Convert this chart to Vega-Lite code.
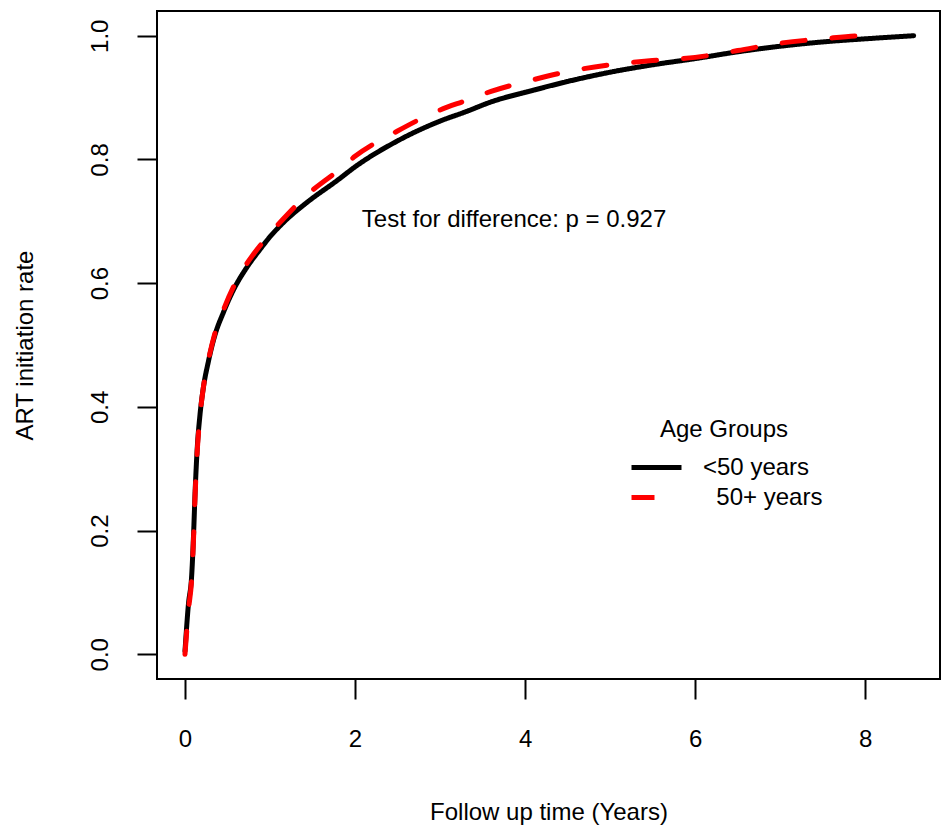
{
  "$schema": "https://vega.github.io/schema/vega-lite/v6.json",
  "width": 783,
  "height": 668,
  "autosize": {"type": "none"},
  "padding": {"left": 157, "top": 11, "right": 3, "bottom": 150},
  "background": "white",
  "config": {
    "font": "Liberation Sans",
    "view": {"stroke": "#000000", "strokeWidth": 2},
    "axis": {"domain": false, "grid": false, "tickColor": "#000000", "tickWidth": 2, "tickSize": 20, "labelColor": "#000000", "labelFontSize": 24, "titleFontSize": 24, "titleFontWeight": "normal", "titleColor": "#000000"},
    "legend": {"padding": 0}
  },
  "layer": [
    {
      "data": {"values": [
        {"time": 0, "rate": 0.005, "group": "<50 years"},
        {"time": 0.04, "rate": 0.08, "group": "<50 years"},
        {"time": 0.08, "rate": 0.13, "group": "<50 years"},
        {"time": 0.1, "rate": 0.19, "group": "<50 years"},
        {"time": 0.12, "rate": 0.265, "group": "<50 years"},
        {"time": 0.145, "rate": 0.335, "group": "<50 years"},
        {"time": 0.175, "rate": 0.385, "group": "<50 years"},
        {"time": 0.215, "rate": 0.43, "group": "<50 years"},
        {"time": 0.275, "rate": 0.473, "group": "<50 years"},
        {"time": 0.35, "rate": 0.515, "group": "<50 years"},
        {"time": 0.45, "rate": 0.552, "group": "<50 years"},
        {"time": 0.57, "rate": 0.589, "group": "<50 years"},
        {"time": 0.72, "rate": 0.624, "group": "<50 years"},
        {"time": 0.88, "rate": 0.654, "group": "<50 years"},
        {"time": 1.0, "rate": 0.675, "group": "<50 years"},
        {"time": 1.15, "rate": 0.697, "group": "<50 years"},
        {"time": 1.43, "rate": 0.73, "group": "<50 years"},
        {"time": 1.8, "rate": 0.767, "group": "<50 years"},
        {"time": 2.0, "rate": 0.788, "group": "<50 years"},
        {"time": 2.5, "rate": 0.83, "group": "<50 years"},
        {"time": 3.0, "rate": 0.862, "group": "<50 years"},
        {"time": 3.3, "rate": 0.877, "group": "<50 years"},
        {"time": 3.6, "rate": 0.893, "group": "<50 years"},
        {"time": 4.1, "rate": 0.912, "group": "<50 years"},
        {"time": 4.5, "rate": 0.926, "group": "<50 years"},
        {"time": 5.0, "rate": 0.941, "group": "<50 years"},
        {"time": 5.5, "rate": 0.953, "group": "<50 years"},
        {"time": 6.0, "rate": 0.963, "group": "<50 years"},
        {"time": 6.5, "rate": 0.974, "group": "<50 years"},
        {"time": 7.0, "rate": 0.983, "group": "<50 years"},
        {"time": 7.5, "rate": 0.99, "group": "<50 years"},
        {"time": 8.0, "rate": 0.995, "group": "<50 years"},
        {"time": 8.57, "rate": 1.0, "group": "<50 years"},
        {"time": 0, "rate": 0.0, "group": "50+ years"},
        {"time": 0.04, "rate": 0.07, "group": "50+ years"},
        {"time": 0.08, "rate": 0.125, "group": "50+ years"},
        {"time": 0.1, "rate": 0.185, "group": "50+ years"},
        {"time": 0.12, "rate": 0.26, "group": "50+ years"},
        {"time": 0.145, "rate": 0.33, "group": "50+ years"},
        {"time": 0.175, "rate": 0.383, "group": "50+ years"},
        {"time": 0.215, "rate": 0.43, "group": "50+ years"},
        {"time": 0.275, "rate": 0.475, "group": "50+ years"},
        {"time": 0.35, "rate": 0.518, "group": "50+ years"},
        {"time": 0.45, "rate": 0.556, "group": "50+ years"},
        {"time": 0.57, "rate": 0.594, "group": "50+ years"},
        {"time": 0.72, "rate": 0.63, "group": "50+ years"},
        {"time": 0.88, "rate": 0.66, "group": "50+ years"},
        {"time": 1.0, "rate": 0.68, "group": "50+ years"},
        {"time": 1.15, "rate": 0.703, "group": "50+ years"},
        {"time": 1.43, "rate": 0.742, "group": "50+ years"},
        {"time": 1.8, "rate": 0.782, "group": "50+ years"},
        {"time": 2.0, "rate": 0.805, "group": "50+ years"},
        {"time": 2.5, "rate": 0.846, "group": "50+ years"},
        {"time": 3.0, "rate": 0.88, "group": "50+ years"},
        {"time": 3.3, "rate": 0.895, "group": "50+ years"},
        {"time": 3.6, "rate": 0.91, "group": "50+ years"},
        {"time": 4.1, "rate": 0.929, "group": "50+ years"},
        {"time": 4.5, "rate": 0.942, "group": "50+ years"},
        {"time": 5.0, "rate": 0.953, "group": "50+ years"},
        {"time": 5.5, "rate": 0.96, "group": "50+ years"},
        {"time": 6.0, "rate": 0.965, "group": "50+ years"},
        {"time": 6.5, "rate": 0.976, "group": "50+ years"},
        {"time": 7.0, "rate": 0.988, "group": "50+ years"},
        {"time": 7.5, "rate": 0.995, "group": "50+ years"},
        {"time": 8.0, "rate": 1.0, "group": "50+ years"},
        {"time": 8.17, "rate": 1.0, "group": "50+ years"}
      ]},
      "mark": {"type": "line", "strokeWidth": 5, "interpolate": "monotone", "strokeCap": "round", "strokeJoin": "round"},
      "encoding": {
        "x": {"field": "time", "type": "quantitative", "scale": {"domain": [-0.329, 8.88], "nice": false, "zero": false},
              "axis": {"values": [0, 2, 4, 6, 8], "format": "d", "labelBaseline": "middle", "labelPadding": 40, "title": "Follow up time (Years)", "titleY": 133, "titleBaseline": "middle"}},
        "y": {"field": "rate", "type": "quantitative", "scale": {"domain": [-0.04, 1.04], "nice": false, "zero": false},
              "axis": {"values": [0, 0.2, 0.4, 0.6, 0.8, 1.0], "format": ".1f", "labelAngle": 270, "labelAlign": "center", "labelBaseline": "middle", "labelPadding": 37,
                       "title": "ART initiation rate", "titleAngle": 270, "titleX": -132, "titleY": 334, "titleAlign": "center", "titleBaseline": "middle"}},
        "color": {"field": "group", "type": "nominal", "scale": {"domain": ["<50 years", "50+ years"], "range": ["#000000", "#ff0000"]},
                  "legend": {"orient": "none", "legendX": 487, "legendY": 407, "title": "Age Groups", "titleFontSize": 24, "titleFontWeight": "normal", "titleColor": "#000000", "titleAnchor": "middle", "titlePadding": 13, "labelFontSize": 24, "labelColor": "#000000", "symbolType": "M-2.5,0H2.5", "symbolSize": 400, "symbolStrokeWidth": 5, "labelOffset": 34, "rowPadding": 5,
                             "labelExpr": "datum.label === '50+ years' ? '\u2060\u00a0\u00a050+ years' : datum.label",
                             "encode": {"title": {"update": {"dx": {"value": -9}}}}}},
        "strokeDash": {"field": "group", "type": "nominal", "scale": {"domain": ["<50 years", "50+ years"], "range": [[1, 0], [23, 27]]},
                  "legend": {"orient": "none", "legendX": 487, "legendY": 407, "title": "Age Groups", "titleFontSize": 24, "titleFontWeight": "normal", "titleColor": "#000000", "titleAnchor": "middle", "titlePadding": 13, "labelFontSize": 24, "labelColor": "#000000", "symbolType": "M-2.5,0H2.5", "symbolSize": 400, "symbolStrokeWidth": 5, "labelOffset": 34, "rowPadding": 5,
                             "labelExpr": "datum.label === '50+ years' ? '\u2060\u00a0\u00a050+ years' : datum.label",
                             "encode": {"title": {"update": {"dx": {"value": -9}}}}}}
      }
    },
    {
      "data": {"values": [{"time": 2.08, "rate": 0.702, "label": "Test for difference: p = 0.927"}]},
      "mark": {"type": "text", "align": "left", "baseline": "middle", "fontSize": 24, "color": "#000000"},
      "encoding": {
        "x": {"field": "time", "type": "quantitative"},
        "y": {"field": "rate", "type": "quantitative"},
        "text": {"field": "label"}
      }
    }
  ]
}
